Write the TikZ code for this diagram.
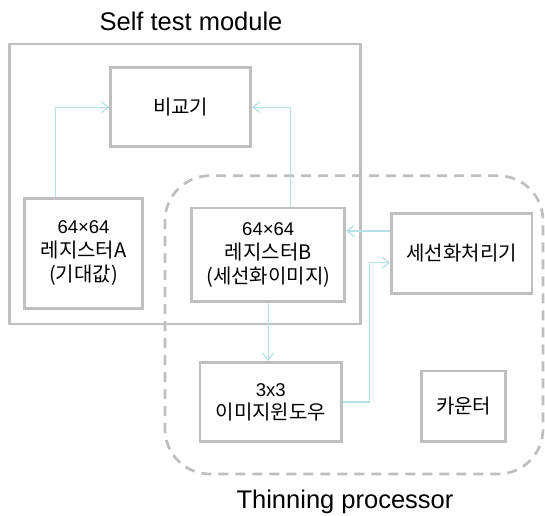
\documentclass[tikz,border=0pt]{standalone}
\usepackage{fontspec}
\setmainfont{Liberation Sans}
\newfontfamily\kr{Noto Sans CJK KR}
\usetikzlibrary{arrows.meta,calc}
\definecolor{boxgray}{HTML}{BFBFBF}
\definecolor{conncol}{HTML}{B4E0E6}
\newcommand{\lat}[1]{{\rmfamily\fontsize{18.5}{24}\selectfont #1}}
\begin{document}
\begin{tikzpicture}[x=1pt,y=-1pt,
  blk/.style={draw=boxgray,line width=2.7pt,align=center,inner sep=0pt,
    font=\kr\fontsize{20}{24}\selectfont},
  frame/.style={draw=boxgray,line width=2.7pt,inner sep=0pt},
  dframe/.style={frame,dash pattern=on 10pt off 7pt,rounded corners=45pt},
  title/.style={font=\fontsize{25.5}{30}\selectfont,anchor=base,inner sep=0pt},
  conn/.style={draw=conncol,line width=1.3pt,
    -{Straight Barb[length=7pt,width=11pt,line width=1.2pt]}}]
\useasboundingbox (0,0) rectangle (545,515);
% frames
\node[frame,minimum width=351.4pt,minimum height=280pt] (stm) at (185,184) {};
\node[dframe,minimum width=378pt,minimum height=298.3pt] (tp) at (354,324.85) {};
\node[title] (stmt) at (191,30.5) {Self test module};
\node[title] (tpt) at (345,508.3) {Thinning processor};
% blocks
\node[blk,minimum width=140pt,minimum height=79pt] (cmp) at (180.7,107.2) {비교기};
\node[blk,minimum width=118.4pt,minimum height=110pt] (rega) at (83.5,253.3) {\lat{64×64}\\레지스터A\\(기대값)};
\node[blk,minimum width=153pt,minimum height=93.7pt] (regb) at (268.2,254.8) {\lat{64×64}\\레지스터B\\(세선화이미지)};
\node[blk,minimum width=140.7pt,minimum height=80pt] (thin) at (461.7,253.3) {세선화처리기};
\node[blk,minimum width=141.7pt,minimum height=79.4pt,font=\kr\fontsize{20}{23}\selectfont] (win) at (270.8,402) {\lat{3x3}\\이미지윈도우};
\node[blk,minimum width=84pt,minimum height=70.7pt] (cnt) at (463.7,406.3) {카운터};
% connectors
\coordinate (aup) at ($(rega.north)+(-27.8,0)$);
\draw[conn] (aup) |- (cmp.west);
\coordinate (bup) at ($(regb.north)+(22.1,0)$);
\draw[conn] (bup) |- (cmp.east);
\coordinate (tout) at ($(thin.west)+(0,-22.3)$);
\draw[conn] (tout) -- (tout -| regb.east);
\draw[conn] (regb.south) -- (regb.south |- win.north);
\coordinate (tin) at ($(thin.west)+(0,9.4)$);
\coordinate (wbend) at ($(win.east)+(26.6,0)$);
\draw[conn] (win.east) -- (wbend) |- (tin);
\end{tikzpicture}
\end{document}
